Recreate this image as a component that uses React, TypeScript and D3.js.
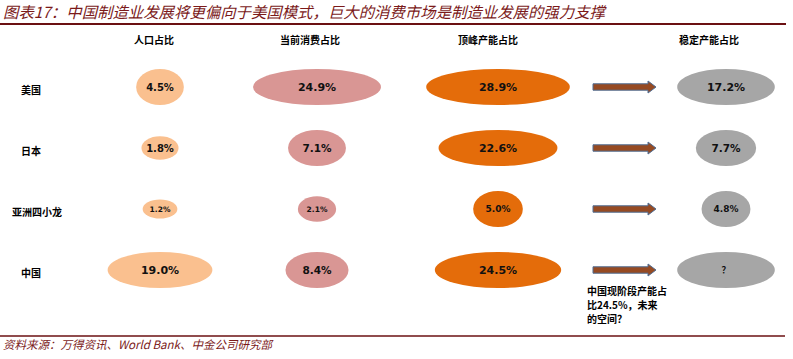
import React from "react";
import * as d3 from "d3";

// data
const title = "图表17：中国制造业发展将更偏向于美国模式，巨大的消费市场是制造业发展的强力支撑";
const source = "资料来源：万得资讯、World Bank、中金公司研究部";
const rows = ["美国", "日本", "亚洲四小龙", "中国"];
const columns = ["人口占比", "当前消费占比", "顶峰产能占比", "稳定产能占比"];
const popShare = [4.5, 1.8, 1.2, 19.0];
const consumptionShare = [24.9, 7.1, 2.1, 8.4];
const peakCapacity = [28.9, 22.6, 5.0, 24.5];
const stableCapacity: (number | null)[] = [17.2, 7.7, 4.8, null];
const note = ["中国现阶段产能占", "比24.5%，未来", "的空间？"];

const colors = ["#FAC08F", "#D99694", "#E46C0A", "#A6A6A6"];
const maroon = "#7B1A1A";
const cjk = "'Noto Sans CJK SC', sans-serif";

const W = 793;
const H = 359;

export default function App() {
  const series = [popShare, consumptionShare, peakCapacity, stableCapacity];

  // column centres of the bubbles (the arrow sits between peak and stable)
  const xCol = d3
    .scaleOrdinal<string, number>()
    .domain([...columns, "arrow"])
    .range([160, 317, 498, 726, 625]);
  const xHeader = d3
    .scaleOrdinal<string, number>()
    .domain(columns)
    .range([154, 310, 488, 709]);
  const yRow = d3.scalePoint<string>().domain(rows).range([87, 270]);

  const rx = d3.scaleLinear().domain([0, 30]).range([15, 74]);
  const ry = d3.scaleSqrt().domain([0, 4.2]).range([0, 18]).clamp(true);

  const fontSize = (label: string, v: number) =>
    label.length >= 5 ? 11 : v < 1.5 || (v > 2 && v < 2.5) ? 7.5 : v < 4.6 ? 10 : v < 6 ? 9 : 10.5;

  const arrowPath = (cy: number) => {
    const x0 = xCol("arrow") - 32;
    const x1 = xCol("arrow") + 31;
    const p = d3.path();
    p.moveTo(x0, cy - 3.2);
    p.lineTo(x1 - 8, cy - 3.2);
    p.lineTo(x1 - 8, cy - 6);
    p.lineTo(x1, cy);
    p.lineTo(x1 - 8, cy + 6);
    p.lineTo(x1 - 8, cy + 3.2);
    p.lineTo(x0, cy + 3.2);
    p.closePath();
    return p.toString();
  };

  return (
    <svg
      width={W}
      height={H}
      style={{ position: "absolute", left: 0, top: 0, background: "#fff" }}
    >
      {/* title */}
      <text
        x={3}
        y={18}
        fill={maroon}
        fontFamily={cjk}
        fontSize={15.4}
        fontStyle="italic"
      >
        {title}
      </text>
      <line x1={0} x2={786} y1={24} y2={24} stroke="#6B1012" strokeWidth={2} />

      {/* column headers */}
      {columns.map((c) => (
        <text
          key={c}
          x={xHeader(c)}
          y={44}
          textAnchor="middle"
          fontFamily={cjk}
          fontWeight="bold"
          fontSize={10}
          fill="#000"
        >
          {c}
        </text>
      ))}

      {/* row labels */}
      {rows.map((r) => (
        <text
          key={r}
          x={r.length > 2 ? 37 : 31}
          y={yRow(r)! + 7}
          textAnchor="middle"
          fontFamily={cjk}
          fontWeight="bold"
          fontSize={10}
          fill="#000"
        >
          {r}
        </text>
      ))}

      {/* bubbles */}
      {series.map((vals, ci) =>
        rows.map((r, ri) => {
          const v = vals[ri];
          const sizeV = v == null ? (vals[0] as number) : v;
          const cx = xCol(columns[ci]);
          const cy = yRow(r)!;
          const label = v == null ? "？" : `${v.toFixed(1)}%`;
          return (
            <g key={`${ci}-${ri}`}>
              <ellipse
                cx={cx}
                cy={cy}
                rx={rx(sizeV)}
                ry={ry(sizeV)}
                fill={colors[ci]}
              />
              <text
                x={cx}
                y={cy}
                dy="0.36em"
                textAnchor="middle"
                fontFamily={v == null ? cjk : "'DejaVu Sans', Verdana, sans-serif"}
                fontWeight="bold"
                fontSize={v == null ? 9 : fontSize(label, v)}
                fill="#111"
              >
                {label}
              </text>
            </g>
          );
        })
      )}

      {/* arrows */}
      {rows.map((r) => (
        <path
          key={r}
          d={arrowPath(yRow(r)!)}
          fill="#964A22"
          stroke="#4F6D93"
          strokeWidth={1}
        />
      ))}

      {/* note below China arrow */}
      {note.map((line, i) => (
        <text
          key={i}
          x={587}
          y={295 + i * 14}
          fontFamily={cjk}
          fontWeight="bold"
          fontSize={10}
          fill="#000"
        >
          {line}
        </text>
      ))}

      {/* source */}
      <line x1={0} x2={785} y1={336} y2={336} stroke="#6B1012" strokeWidth={1.5} />
      <text
        x={3}
        y={349}
        fill={maroon}
        fontFamily={cjk}
        fontSize={11.5}
        fontStyle="italic"
      >
        {source}
      </text>
    </svg>
  );
}
